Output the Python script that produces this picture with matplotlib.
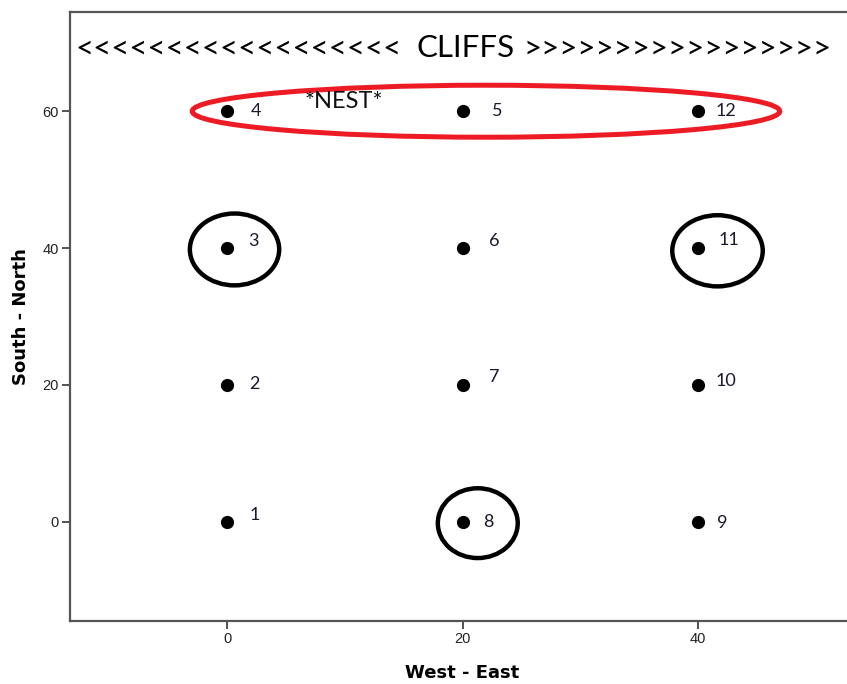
"""Nest site grid plot with cliffs annotation"""

import matplotlib
matplotlib.use('Agg')
import matplotlib.pyplot as plt
from matplotlib.patches import Ellipse

# station grid positions (metres)
west_east = [0, 0, 0, 0, 20, 20, 20, 20, 40, 40, 40, 40]
south_north = [0, 20, 40, 60, 60, 40, 20, 0, 0, 20, 40, 60]
station_ids = ['1', '2', '3', '4', '5', '6', '7', '8', '9', '10', '11', '12']

# label offsets in points, right/up of each dot
label_dx = [16, 16, 15, 17, 21, 19, 19, 15, 14, 13, 15, 13]
label_dy = [5, 1, 5, 0, 0, 5, 6, 0, -1, 3, 6, 0]

x_ticks = [0, 20, 40]
y_ticks = [0, 20, 40, 60]

# highlighted stations: (centre x, centre y, width, height)
circled = [(0.6, 39.8, 7.6, 10.5), (41.7, 39.6, 7.7, 10.4), (21.3, -0.2, 6.8, 10.2)]
nest_row = (22.0, 60.0, 50.0, 7.6)

fig = plt.figure(figsize=(8.47, 6.84), dpi=100)
ax = fig.add_axes([70 / 847, 63 / 684, 785 / 847, 609 / 684])

ax.scatter(west_east, south_north, s=72, color='black', zorder=3)
for x, y, lab, dx, dy in zip(west_east, south_north, station_ids, label_dx, label_dy):
    ax.annotate(lab, (x, y), xytext=(dx, dy), textcoords='offset points',
                ha='left', va='center', fontsize=13, family='Lato', color='#1a1a2a')

ax.add_patch(Ellipse(nest_row[:2], nest_row[2], nest_row[3], fill=False,
                     edgecolor='#ED1C24', linewidth=3.6, zorder=2))
for cx, cy, w, h in circled:
    ax.add_patch(Ellipse((cx, cy), w, h, fill=False, edgecolor='black',
                         linewidth=3.2, zorder=2))

ax.text(9.9, 61.4, '*NEST*', ha='center', va='center', fontsize=17,
        family='Lato', color='#111111')

cliff_y = 69.2
ax.text(14.8, cliff_y, '<' * 18, ha='right', va='center', fontsize=22.5, family='Lato')
ax.text(20.3, cliff_y, 'CLIFFS', ha='center', va='center', fontsize=22.5, family='Lato')
ax.text(25.2, cliff_y, '>' * 17, ha='left', va='center', fontsize=22.5, family='Lato')

ax.set_xlim(-13.4, 53.4)
ax.set_ylim(-14.5, 74.5)
ax.set_xticks(x_ticks)
ax.set_yticks(y_ticks)
ax.tick_params(length=6, width=1.3, color='#444444', labelsize=10.5,
               labelcolor='#222222', pad=2)
for lbl in ax.get_xticklabels() + ax.get_yticklabels():
    lbl.set_family('Liberation Sans')

for side in ['left', 'bottom', 'top']:
    ax.spines[side].set_color('#555555')
    ax.spines[side].set_linewidth(1.6)
ax.spines['right'].set_visible(False)

ax.set_xlabel('West - East', fontsize=13, fontweight='bold', labelpad=13)
ax.set_ylabel('South - North', fontsize=13, fontweight='bold', labelpad=9)

fig.savefig('out.png', dpi=100)
plt.close(fig)
